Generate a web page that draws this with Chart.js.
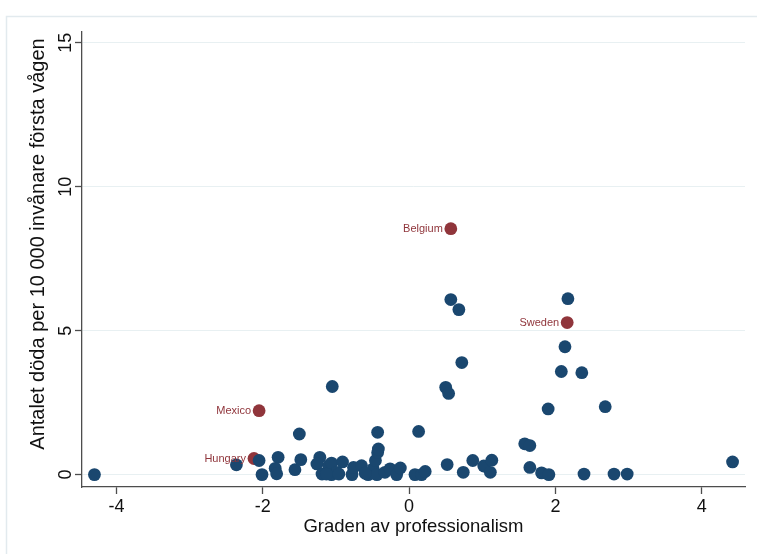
<!DOCTYPE html>
<html>
<head>
<meta charset="utf-8">
<script src="https://cdn.jsdelivr.net/npm/chart.js@4"></script>
<style>
  html, body { margin: 0; padding: 0; background: #ffffff; }
  #c { display: block; }
</style>
</head>
<body>
<canvas id="c" width="757" height="554"></canvas>
<script>
// Countries without a label: professionalism index (x) and deaths per 10 000 inhabitants (y)
const otherX = [
  -4.30, -2.36, -2.05, -2.01, -1.79, -1.83, -1.81, -1.56, -1.50, -1.48,
  -1.22, -1.26, -1.19, -1.10, -1.05, -1.06, -1.06, -0.99, -0.91, -0.78,
  -0.76, -0.65, -0.56, -0.49, -0.46, -0.43, -0.42, -0.43, -0.44, -0.33,
  -0.26, -0.17, -0.12, 0.08, 0.17, 0.22, 0.13, 0.50, 0.54, 0.52,
  0.74, 0.87, 1.02, 1.11, 1.13, 1.58, 1.65, 1.65, 1.81, 1.91,
  2.39, 2.80, 2.98, 4.42, 1.90, 2.68, 2.08, 2.36, 2.13, 0.72,
  0.57, 0.68, 2.17, -0.60, -1.13, -0.96
];
const otherY = [
  0.00, 0.34, 0.49, 0.00, 0.60, 0.22, 0.03, 0.17, 1.41, 0.52,
  0.60, 0.37, 0.02, 0.31, 3.06, 0.40, 0.00, 0.08, 0.44, 0.00,
  0.25, 0.31, 0.00, 0.20, 0.49, 0.77, 0.89, 1.47, 0.00, 0.08,
  0.20, 0.00, 0.23, 0.00, 0.00, 0.11, 1.50, 3.03, 2.82, 0.35,
  0.08, 0.49, 0.30, 0.08, 0.50, 1.07, 1.01, 0.25, 0.06, 0.00,
  0.02, 0.02, 0.02, 0.44, 2.28, 2.36, 3.58, 3.54, 4.44, 3.89,
  6.08, 5.73, 6.11, 0.05, 0.02, 0.02
];

// Highlighted countries
const namedCountries = ['Belgium', 'Sweden', 'Mexico', 'Hungary'];
const namedX = [0.57, 2.16, -2.05, -2.12];
const namedY = [8.54, 5.28, 2.22, 0.56];

// Axis ticks
const xTicks = [-4, -2, 0, 2, 4];
const yTicks = [0, 5, 10, 15];

const BLUE = '#1a476f';
const RED = '#90353b';
const AXIS = '#4d4d4d';
const FONT = '"Liberation Sans", Arial, Helvetica, sans-serif';
const Y_TITLE = 'Antalet döda per 10 000 invånare första vågen';

const toPoints = (xs, ys) => xs.map((x, i) => ({ x: x, y: ys[i] }));

// Light outer frame of the graph region
const framePlugin = {
  id: 'frame',
  beforeDraw(chart) {
    const ctx = chart.ctx;
    ctx.save();
    ctx.strokeStyle = '#e2eaee';
    ctx.lineWidth = 1.5;
    ctx.strokeRect(6.5, 16.5, 800, 600);
    ctx.restore();
  }
};

// Vertical tick labels and title on the y axis
const yLabelPlugin = {
  id: 'yLabels',
  afterDraw(chart) {
    const scale = chart.scales.y;
    const ctx = chart.ctx;
    ctx.save();
    ctx.fillStyle = '#111111';
    ctx.textAlign = 'center';
    ctx.textBaseline = 'middle';
    ctx.font = '18px ' + FONT;
    scale.ticks.forEach(t => {
      const py = scale.getPixelForValue(t.value);
      ctx.save();
      ctx.translate(66, py);
      ctx.rotate(-Math.PI / 2);
      ctx.fillText(String(t.value), 0, 0);
      ctx.restore();
    });
    ctx.font = '20px ' + FONT;
    ctx.translate(38, 244);
    ctx.rotate(-Math.PI / 2);
    ctx.fillText(Y_TITLE, 0, 0);
    ctx.restore();
  }
};

// Country names to the left of the highlighted markers
const nameLabelPlugin = {
  id: 'nameLabels',
  afterDatasetsDraw(chart) {
    const meta = chart.getDatasetMeta(1);
    const ctx = chart.ctx;
    ctx.save();
    ctx.fillStyle = RED;
    ctx.font = '11px ' + FONT;
    ctx.textAlign = 'right';
    ctx.textBaseline = 'middle';
    meta.data.forEach((el, i) => {
      ctx.fillText(namedCountries[i], el.x - 8, el.y + 0.5);
    });
    ctx.restore();
  }
};

new Chart(document.getElementById('c'), {
  type: 'scatter',
  data: {
    datasets: [
      {
        label: 'Övriga',
        data: toPoints(otherX, otherY),
        backgroundColor: BLUE,
        borderColor: BLUE,
        borderWidth: 0,
        pointRadius: 6.4,
        pointHoverRadius: 6.4
      },
      {
        label: 'Utvalda',
        data: toPoints(namedX, namedY),
        backgroundColor: RED,
        borderColor: RED,
        borderWidth: 0,
        pointRadius: 6.4,
        pointHoverRadius: 6.4
      }
    ]
  },
  options: {
    responsive: false,
    animation: false,
    devicePixelRatio: 1,
    events: [],
    layout: { padding: { top: 32, right: 12, left: 0, bottom: 0 } },
    plugins: {
      legend: { display: false },
      tooltip: { enabled: false }
    },
    scales: {
      x: {
        type: 'linear',
        position: 'bottom',
        min: -4.47,
        max: 4.59,
        afterBuildTicks: axis => { axis.ticks = xTicks.map(v => ({ value: v })); },
        afterFit: axis => { axis.height = 67; },
        grid: {
          drawOnChartArea: false,
          drawTicks: true,
          tickLength: 7,
          tickColor: AXIS,
          tickWidth: 1.3
        },
        border: { display: true, color: AXIS, width: 1.3 },
        ticks: {
          color: '#111111',
          font: { family: FONT, size: 18 },
          padding: 2,
          maxRotation: 0,
          minRotation: 0
        },
        title: {
          display: true,
          text: 'Graden av professionalism',
          color: '#111111',
          font: { family: FONT, size: 18.5 },
          padding: { top: 0, bottom: 16 }
        }
      },
      y: {
        type: 'linear',
        position: 'left',
        min: -0.43,
        max: 15.37,
        afterBuildTicks: axis => { axis.ticks = yTicks.map(v => ({ value: v })); },
        afterFit: axis => { axis.width = 82; },
        grid: {
          color: '#e8f0f2',
          lineWidth: 1,
          drawTicks: true,
          tickLength: 7,
          tickColor: AXIS,
          tickWidth: 1.3
        },
        border: { display: true, color: AXIS, width: 1.3 },
        ticks: { display: false },
        title: { display: false }
      }
    }
  },
  plugins: [framePlugin, yLabelPlugin, nameLabelPlugin]
});
</script>
</body>
</html>
